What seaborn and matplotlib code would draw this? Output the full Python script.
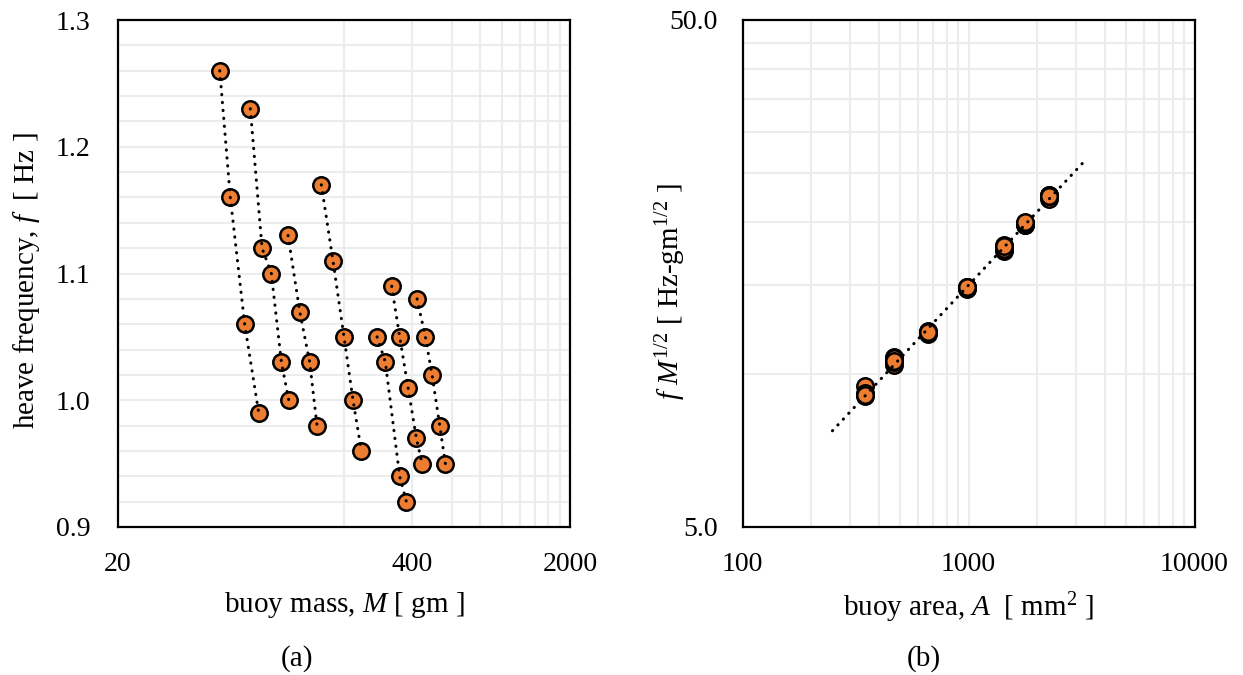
import numpy as np
import pandas as pd
import seaborn as sns
from matplotlib import pyplot as plt
from matplotlib.ticker import FixedLocator, NullFormatter

# ---- data ----
buoy = [1]*4 + [2]*5 + [3]*4 + [4]*5 + [5]*4 + [6]*5 + [7]*5
mass = [56.4, 62.8, 72.7, 83.9,
        77.0, 86.8, 95.4, 105.7, 113.9,
        113.1, 127.4, 141.0, 151.9,
        158.8, 178.8, 200.0, 219.3, 238.7,
        280.1, 304.9, 352.7, 377.6,
        325.1, 352.7, 384.1, 418.2, 443.1,
        421.0, 458.2, 490.5, 530.4, 561.9]
freq = [1.26, 1.16, 1.06, 0.99,
        1.23, 1.12, 1.10, 1.03, 1.00,
        1.13, 1.07, 1.03, 0.98,
        1.17, 1.11, 1.05, 1.00, 0.96,
        1.05, 1.03, 0.94, 0.92,
        1.09, 1.05, 1.01, 0.97, 0.95,
        1.08, 1.05, 1.02, 0.98, 0.95]
buoy_area = {1: 350, 2: 470, 3: 665, 4: 985, 5: 1440, 6: 1770, 7: 2280}
fm_half = [9.5, 9.2, 9.05, 9.1,
           10.8, 10.45, 10.75, 10.6, 10.65,
           12.0, 12.1, 12.2, 12.1,
           14.75, 14.85, 14.85, 14.8, 14.85,
           17.55, 18.0, 17.65, 17.9,
           19.7, 19.75, 19.8, 19.85, 19.95,
           22.15, 22.45, 22.6, 22.55, 22.5]
trend_area = [250, 3290]
trend_fm = [7.74, 26.45]

df = pd.DataFrame({'buoy': buoy, 'mass': mass, 'freq': freq, 'fm': fm_half})
df['area'] = df['buoy'].map(buoy_area)
trend = pd.DataFrame({'area': trend_area, 'fm': trend_fm})

sns.set_style('white')
plt.rcParams['font.family'] = ['Liberation Serif', 'DejaVu Serif']
plt.rcParams['mathtext.fontset'] = 'custom'
plt.rcParams['mathtext.rm'] = 'Liberation Serif'
plt.rcParams['mathtext.it'] = 'Liberation Serif:italic'
for k in ('text.color', 'axes.labelcolor', 'xtick.color', 'ytick.color'):
    plt.rcParams[k] = 'black'

orange = '#ED7D31'
grid_c = '#ececec'
dots = (0, (0.1, 2.5))
FS = 20     # tick labels
LFS = 21    # axis labels

fig = plt.figure(figsize=(12.43, 6.75), dpi=100)
W, H = 1243, 675
ax1 = fig.add_axes([118/W, 1-527/H, 452/W, 507/H])
ax2 = fig.add_axes([742.5/W, 1-527/H, 452/W, 507/H])

# (a) frequency vs mass
sns.lineplot(data=df, x='mass', y='freq', units='buoy', estimator=None, ax=ax1,
             color='black', linestyle=dots, linewidth=2.2, dash_capstyle='round',
             zorder=4, legend=False)
sns.scatterplot(data=df, x='mass', y='freq', ax=ax1, s=140, color=orange,
                edgecolor='black', linewidth=1.8, zorder=3, legend=False)
ax1.set_xscale('log')
ax1.set_xlim(20, 2000)
ax1.set_ylim(0.9, 1.3)
ax1.xaxis.set_major_locator(FixedLocator([20, 400, 2000]))
ax1.set_xticklabels(['20', '400', '2000'])
ax1.xaxis.set_minor_locator(FixedLocator(np.arange(200, 2000, 200)))
ax1.xaxis.set_minor_formatter(NullFormatter())
ax1.yaxis.set_major_locator(FixedLocator([0.9, 1.0, 1.1, 1.2, 1.3]))
ax1.set_yticklabels(['0.9', '1.0', '1.1', '1.2', '1.3'])
ax1.yaxis.set_minor_locator(FixedLocator(np.arange(0.92, 1.3, 0.02)))
ax1.tick_params(axis='y', which='major', direction='in', length=7, width=1.5,
                pad=20, labelsize=FS)
ax1.tick_params(axis='x', which='major', length=0, pad=18, labelsize=FS)
ax1.tick_params(which='minor', length=0)
ax1.set_xlabel(r'buoy mass, $M$ [ gm ]', fontsize=LFS)
ax1.set_ylabel(r'heave frequency, $f$  [ Hz ]', fontsize=LFS)
ax1.xaxis.set_label_coords(0.5, -0.125)
ax1.yaxis.set_label_coords(-0.168, 0.485)

# (b) f M^1/2 vs area
sns.lineplot(data=trend, x='area', y='fm', ax=ax2, color='black', linestyle=dots,
             linewidth=2.2, dash_capstyle='round', zorder=4)
sns.scatterplot(data=df, x='area', y='fm', ax=ax2, s=140, color=orange,
                edgecolor='black', linewidth=1.8, zorder=3, legend=False)
ax2.set_xscale('log')
ax2.set_yscale('log')
ax2.set_xlim(100, 10000)
ax2.set_ylim(5, 50)
ax2.xaxis.set_major_locator(FixedLocator([100, 1000, 10000]))
ax2.set_xticklabels(['100', '1000', '10000'])
ax2.xaxis.set_minor_locator(FixedLocator([k*10**e for e in (2, 3) for k in range(2, 10)]))
ax2.xaxis.set_minor_formatter(NullFormatter())
ax2.yaxis.set_major_locator(FixedLocator([5, 50]))
ax2.set_yticklabels(['5.0', '50.0'])
ax2.yaxis.set_minor_locator(FixedLocator(np.arange(10, 50, 5)))
ax2.yaxis.set_minor_formatter(NullFormatter())
ax2.tick_params(axis='y', which='major', length=0, pad=18, labelsize=FS)
ax2.tick_params(axis='x', which='major', length=0, pad=18, labelsize=FS)
ax2.tick_params(which='minor', length=0)
ax2.set_xlabel(r'buoy area, $A$  [ mm$^2$ ]', fontsize=LFS)
ax2.set_ylabel(r'$f\ M^{1/2}$ [ Hz-gm$^{1/2}$ ]', fontsize=LFS)
ax2.xaxis.set_label_coords(0.5, -0.125)
ax2.yaxis.set_label_coords(-0.121, 0.4635)

for ax in (ax1, ax2):
    ax.grid(True, which='both', color=grid_c, linewidth=1.5)
    ax.set_axisbelow(True)
    for s in ax.spines.values():
        s.set_color('black')
        s.set_linewidth(1.6)
        s.set_zorder(5)

fig.text(297/W, 1-659/H, '(a)', ha='center', va='center', fontsize=LFS)
fig.text(924/W, 1-659/H, '(b)', ha='center', va='center', fontsize=LFS)

fig.savefig('out.png', dpi=100)
